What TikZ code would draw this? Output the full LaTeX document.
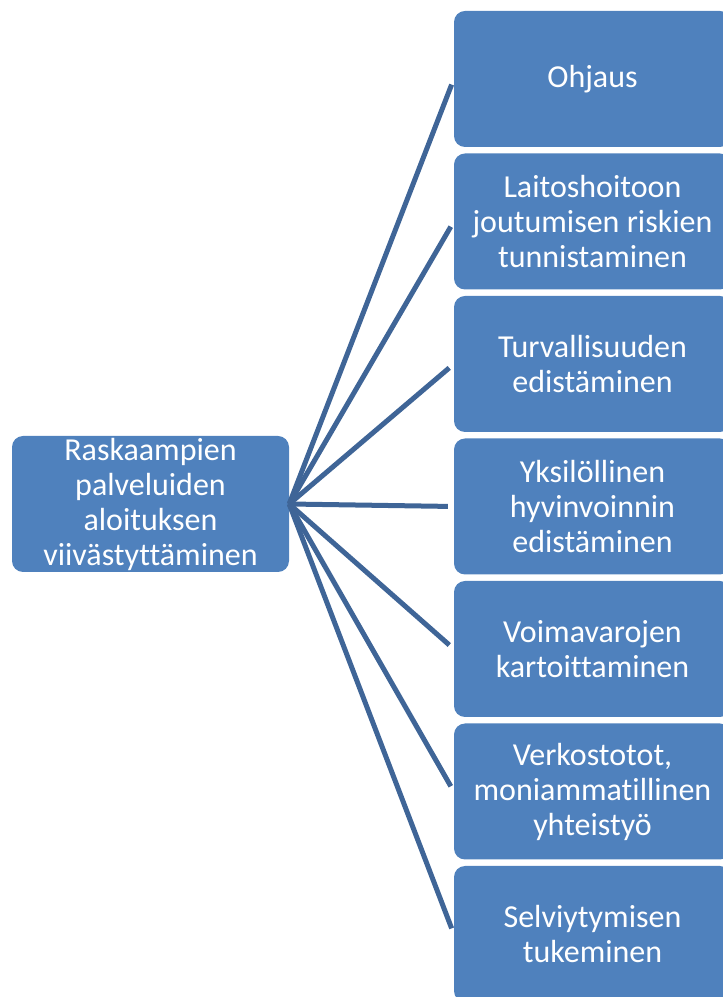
\documentclass[tikz,border=0pt]{standalone}
\usepackage{fontspec}
\setmainfont{Carlito}[Ligatures=NoCommon]
\definecolor{boxblue}{HTML}{4F81BD}
\definecolor{lineblue}{HTML}{3F6597}
\begin{document}
\begin{tikzpicture}[x=1pt,y=1pt,
  boxstyle/.style={fill=boxblue, draw=none, rounded corners=11pt, minimum width=277pt, minimum height=136pt,
    text=white, align=center, font=\fontsize{32}{35}\selectfont, inner sep=0pt},
  conn/.style={draw=lineblue, line width=5pt, shorten >=6pt}]
\useasboundingbox (0,0) rectangle (723,997);
\clip (0,0) rectangle (723,997);
\node[boxstyle] (src) at (150.5,493) {Raskaampien\\palveluiden\\aloituksen\\viivästyttäminen};
\node[boxstyle] (b1) at (592.5,918) {Ohjaus};
\node[boxstyle] (b2) at (592.5,775.5) {Laitoshoitoon\\joutumisen riskien\\tunnistaminen};
\node[boxstyle] (b3) at (592.5,633) {Turvallisuuden\\edistäminen};
\node[boxstyle] (b4) at (592.5,490.5) {Yksilöllinen\\hyvinvoinnin\\edistäminen};
\node[boxstyle] (b5) at (592.5,348) {Voimavarojen\\kartoittaminen};
\node[boxstyle] (b6) at (592.5,205.5) {Verkostotot,\\moniammatillinen\\yhteistyö};
\node[boxstyle] (b7) at (592.5,63) {Selviytymisen\\tukeminen};
\foreach \b in {b1,b2,b3,b4,b5,b6,b7}
  \draw[conn] (src.east) -- (\b.west);
\end{tikzpicture}
\end{document}
